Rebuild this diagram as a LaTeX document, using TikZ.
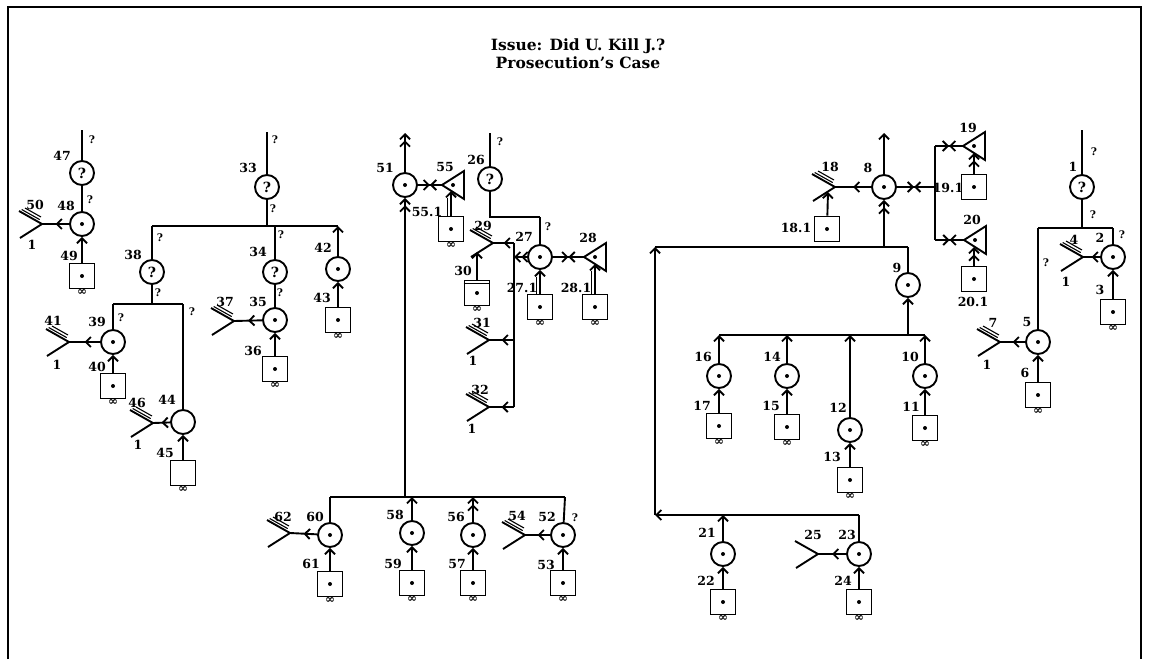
\documentclass[tikz,border=0pt]{standalone}
\usepackage{fontspec}
\setmainfont{DejaVu Serif}
\usetikzlibrary{arrows.meta,decorations.markings,calc}
\newcommand\numf{\fontsize{12.5}{13}\selectfont\bfseries}
\newcommand\qmf{\fontsize{10.5}{11}\selectfont\bfseries}
\newcommand\cqf{\fontsize{14}{14}\selectfont\bfseries}
\newcommand\inff{\fontsize{12}{10}\selectfont\bfseries}
\tikzset{
  dc/.style={circle, draw, minimum size=24pt, inner sep=0pt,
    path picture={\fill (path picture bounding box.center) circle (2pt);}},
  qc/.style={circle, draw, minimum size=24pt, inner sep=0pt, font=\cqf},
  ec/.style={circle, draw, minimum size=24pt, inner sep=0pt},
  sq/.style={rectangle, draw, minimum size=25pt, inner sep=0pt,
    path picture={\fill (path picture bounding box.center) circle (2pt);}},
  sqe/.style={rectangle, draw, minimum size=25pt, inner sep=0pt},
  inf/.style={label={[font=\inff, inner sep=0pt, label distance=-1pt]below:∞}},
  num/.style={font=\numf, inner sep=0pt},
  qm/.style={font=\qmf, inner sep=0pt},
  dotnode/.style={circle, fill, minimum size=4pt, inner sep=0pt},
  arr/.style={-{Straight Barb[length=5pt,width=10pt]}},
  darr/.style={-{Straight Barb[length=5pt,width=10pt] Straight Barb[length=5pt,width=10pt]}},
  marr/.style={postaction={decorate,decoration={markings,mark=at position #1 with {\arrow{Straight Barb[length=5pt,width=10pt]}}}}},
  marr/.default=0.5,
  xarr/.style={postaction={decorate,decoration={markings,mark=at position #1 with {\arrow{Straight Barb[length=5pt,width=10pt]}\arrowreversed{Straight Barb[length=5pt,width=10pt]}}}}},
  xarr/.default=0.5,
}
% fork: name, position, hatched(1/0)
\newcommand\wfork[3]{%
  \coordinate (#1) at (#2);
  \draw (#1) -- ++(-23,-13) (#1) -- ++(-22,14);
  \ifnum#3=1
  \draw[line width=1.1pt] ($(#1)+(-2.3,-4.4)$) -- ++(-18,-10.1);
  \draw[line width=1.1pt] ($(#1)+(-1.0,-7.0)$) -- ++(-16,-9);
  \fi}
% triangle pointing left: name, centre
\newcommand\wtri[2]{%
  \node[dotnode] (#1) at (#2) {};
  \draw ($(#1)+(-11,0)$) coordinate (#1a) -- ++(22,-14) -- ++(0,28) -- cycle;}
% double-shaft arrow: from node, to coordinate
\newcommand\dblarr[2]{%
  \draw[arr] (#1.north) -- (#2);
  \draw ([xshift=-3.5pt]#1.north) -- ($(#2)+(-3.5,7)$);}
\begin{document}
\begin{tikzpicture}[x=1pt,y=-1pt,line width=1.9pt]
\useasboundingbox (0,0) rectangle (1153,659);
\draw[line width=1.4pt] (8,659) -- (8,7) -- (1141,7) -- (1141,659);
\node[font=\fontsize{15.5}{18}\selectfont\bfseries, align=center] (title) at (578,54)
  {Issue: Did U. Kill J.?\\Prosecution’s Case};

% ---------------- left cluster ----------------
\node[qc] (n47) at (82,173) {?};
\coordinate (c47) at (82,130);
\node[dc] (n48) at (82,224) {};
\wfork{f50}{42,224}{1}
\node[sq,inf] (s49) at (82,276) {};
\draw (c47) -- (n47) -- (n48);
\draw[marr] (n48) -- (f50);
\draw[arr] (s49) -- (n48);

\coordinate (b1l) at (152,226); \coordinate (b1a) at (267,226);
\coordinate (b1b) at (275,226); \coordinate (b1r) at (338,226);
\draw (b1l) -- (b1r);
\node[qc] (n33) at (267,187) {?};
\coordinate (c33) at (267,132);
\draw (c33) -- (n33) -- (b1a);

\coordinate (b2l) at (113,304); \coordinate (b2m) at (152,304); \coordinate (b2r) at (183,304);
\node[qc] (n38) at (152,272) {?};
\draw (b1l) -- (n38) -- (b2m);
\draw (b2l) -- (b2r);
\node[dc] (n39) at (113,342) {};
\draw (b2l) -- (n39);
\wfork{f41}{69,342}{1}
\draw[marr] (n39) -- (f41);
\node[sq,inf] (s40) at (113,386) {};
\draw[arr] (s40) -- (n39);
\node[ec] (n44) at (183,422) {};
\draw (b2r) -- (n44);
\wfork{f46}{153,423}{1}
\draw[marr] (n44) -- (f46);
\node[sqe,inf] (s45) at (183,473) {};
\draw[arr] (s45) -- (n44);

\node[qc] (n34) at (275,272) {?};
\node[dc] (n35) at (275,320) {};
\draw (b1b) -- (n34) -- (n35);
\wfork{f37}{234,321}{1}
\draw[marr] (n35) -- (f37);
\node[sq,inf] (s36) at (275,369) {};
\draw[arr] (s36) -- (n35);
\node[dc] (n42) at (338,269) {};
\draw[arr] (n42) -- (b1r);
\node[sq,inf] (s43) at (338,320) {};
\draw[arr] (s43) -- (n42);

% ---------------- middle cluster ----------------
\node[dc] (n51) at (405,185) {};
\coordinate (c51) at (405,133);
\draw[darr] (n51) -- (c51);
\coordinate (b5l) at (330,497); \coordinate (b5m) at (405,497); \coordinate (b5r) at (565,497);
\draw[darr] (b5m) -- (n51);
\wtri{t55}{453,185}
\draw[xarr] (t55a) -- (n51);
\node[sq,inf] (s551) at (451,229) {};
\coordinate (p55) at (451,191);
\dblarr{s551}{p55}

\node[qc] (n26) at (490,179) {?};
\coordinate (c26) at (490,133);
\coordinate (b4l) at (490,217); \coordinate (b4r) at (540,217);
\draw (c26) -- (n26) -- (b4l) -- (b4r);
\node[dc] (n27) at (540,257) {};
\draw (b4r) -- (n27);
\coordinate (v27) at (514,257); \coordinate (vt) at (514,243);
\coordinate (v31) at (514,340); \coordinate (v32) at (514,407);
\draw (vt) -- (v32);
\draw[darr] (n27) -- (v27);
\wfork{f29}{493,243}{1}
\draw[marr] (vt) -- (f29);
\wfork{f31}{489,340}{1}
\draw[marr] (v31) -- (f31);
\wfork{f32}{489,407}{1}
\draw[marr] (v32) -- (f32);
\node[sq,inf] (s30) at (477,293) {};
\draw[line width=1.2pt] ($(s30.north west)+(0,4)$) -- ($(s30.north east)+(0,4)$);
\coordinate (p29) at (477,252);
\draw[arr] (s30) -- (p29);
\wtri{t28}{595,257}
\draw[xarr] (t28a) -- (n27);
\node[sq,inf] (s271) at (540,307) {};
\dblarr{s271}{n27.south}
\node[sq,inf] (s281) at (595,307) {};
\coordinate (p28) at (595,264);
\dblarr{s281}{p28}

% bottom middle
\draw (b5l) -- (b5r);
\node[dc] (n60) at (330,535) {};
\draw (b5l) -- (n60);
\wfork{f62}{290,533}{1}
\draw[marr] (n60) -- (f62);
\node[sq,inf] (s61) at (330,584) {};
\draw[arr] (s61) -- (n60);
\node[dc] (n58) at (412,533) {};
\coordinate (b58) at (412,497);
\draw[arr] (n58) -- (b58);
\node[sq,inf] (s59) at (412,583) {};
\draw[arr] (s59) -- (n58);
\node[dc] (n56) at (473,535) {};
\coordinate (b56) at (473,497);
\draw[darr] (n56) -- (b56);
\node[sq,inf] (s57) at (473,583) {};
\draw[arr] (s57) -- (n56);
\wfork{f54}{525,535}{1}
\node[dc] (n52) at (563,535) {};
\draw (b5r) -- (n52);
\draw[marr] (n52) -- (f54);
\node[sq,inf] (s53) at (563,583) {};
\draw[arr] (s53) -- (n52);

% ---------------- right-middle cluster ----------------
\node[dc] (n8) at (884,187) {};
\coordinate (c8) at (884,133);
\draw[arr] (n8) -- (c8);
\wfork{f18}{835,187}{1}
\draw[marr] (n8) -- (f18);
\node[sq] (s181) at (827,229) {};
\coordinate (p18) at (828,192);
\draw[arr] (s181) -- (p18);
\coordinate (b6l) at (655,247); \coordinate (b6m) at (884,247); \coordinate (b6r) at (908,247);
\draw (b6l) -- (b6r);
\draw[darr] (b6m) -- (n8);
\node[dc] (n9) at (908,285) {};
\draw (b6r) -- (n9);
\coordinate (b7l) at (719,335); \coordinate (b7m) at (908,335); \coordinate (b7r) at (925,335);
\coordinate (b14) at (787,335); \coordinate (b12) at (850,335);
\draw (b7l) -- (b7r);
\draw[arr] (b7m) -- (n9);
\node[dc] (n16) at (719,376) {};
\draw[arr] (n16) -- (b7l);
\node[sq,inf] (s17) at (719,426) {};
\draw[arr] (s17) -- (n16);
\node[dc] (n14) at (787,376) {};
\draw[arr] (n14) -- (b14);
\node[sq,inf] (s15) at (787,427) {};
\draw[arr] (s15) -- (n14);
\node[dc] (n12) at (850,430) {};
\draw[arr] (n12) -- (b12);
\node[sq,inf] (s13) at (850,480) {};
\draw[arr] (s13) -- (n12);
\node[dc] (n10) at (925,376) {};
\draw[arr] (n10) -- (b7r);
\node[sq,inf] (s11) at (925,428) {};
\draw[arr] (s11) -- (n10);

\coordinate (b8l) at (655,515); \coordinate (b8m) at (723,515); \coordinate (b8r) at (859,515);
\draw[arr] (b8r) -- (b8l);
\draw[arr] (b8l) -- (b6l);
\node[dc] (n21) at (723,554) {};
\draw[arr] (n21) -- (b8m);
\node[sq,inf] (s22) at (723,602) {};
\draw[arr] (s22) -- (n21);
\node[dc] (n23) at (859,554) {};
\draw (b8r) -- (n23);
\wfork{f25}{818,554}{0}
\draw[marr] (n23) -- (f25);
\node[sq,inf] (s24) at (859,602) {};
\draw[arr] (s24) -- (n23);

\coordinate (v19) at (935,146); \coordinate (v8) at (935,187); \coordinate (v20) at (935,240);
\draw (v19) -- (v20);
\draw[xarr=0.55] (v8) -- (n8);
\wtri{t19}{974,146}
\draw[xarr] (t19a) -- (v19);
\wtri{t20}{975,240}
\draw[xarr] (t20a) -- (v20);
\node[sq] (s191) at (974,187) {};
\coordinate (p19) at (974,153);
\draw[darr] (s191) -- (p19);
\node[sq] (s201) at (974,279) {};
\coordinate (p20) at (974,247);
\draw[darr] (s201) -- (p20);

% ---------------- far right cluster ----------------
\node[qc] (n1) at (1082,187) {?};
\coordinate (c1) at (1082,130);
\coordinate (b9l) at (1038,228); \coordinate (b9m) at (1082,228); \coordinate (b9r) at (1113,228);
\draw (c1) -- (n1) -- (b9m);
\draw (b9l) -- (b9r);
\node[dc] (n2) at (1113,257) {};
\draw (b9r) -- (n2);
\wfork{f4}{1083,257}{1}
\draw[marr] (n2) -- (f4);
\node[sq,inf] (s3) at (1113,312) {};
\draw[arr] (s3) -- (n2);
\node[dc] (n5) at (1038,342) {};
\draw (b9l) -- (n5);
\wfork{f7}{1000,342}{1}
\draw[marr] (n5) -- (f7);
\node[sq,inf] (s6) at (1038,395) {};
\draw[arr] (s6) -- (n5);

% ---------------- number labels ----------------
\node[num] (l47) at (62,156) {47};
\node[num] (l48) at (66,206) {48};
\node[num] (l50) at (35,205) {50};
\node[num] (l49) at (69,256) {49};
\node[num] (l38) at (133,255) {38};
\node[num] (l33) at (248,168) {33};
\node[num] (l34) at (258,252) {34};
\node[num] (l35) at (258,302) {35};
\node[num] (l37) at (225,302) {37};
\node[num] (l36) at (253,351) {36};
\node[num] (l42) at (323,248) {42};
\node[num] (l43) at (322,298) {43};
\node[num] (l39) at (97,322) {39};
\node[num] (l41) at (53,321) {41};
\node[num] (l40) at (97,367) {40};
\node[num] (l44) at (167,400) {44};
\node[num] (l46) at (137,403) {46};
\node[num] (l45) at (165,453) {45};
\node[num] (l51) at (385,168) {51};
\node[num] (l55) at (445,167) {55};
\node[num] (l551) at (427,212) {55.1};
\node[num] (l26) at (476,160) {26};
\node[num] (l29) at (483,226) {29};
\node[num] (l27) at (524,237) {27};
\node[num] (l28) at (588,238) {28};
\node[num] (l30) at (463,271) {30};
\node[num] (l271) at (522,288) {27.1};
\node[num] (l281) at (576,288) {28.1};
\node[num] (l31) at (482,323) {31};
\node[num] (l32) at (480,390) {32};
\node[num] (l62) at (283,517) {62};
\node[num] (l60) at (315,517) {60};
\node[num] (l61) at (311,564) {61};
\node[num] (l58) at (395,515) {58};
\node[num] (l59) at (393,564) {59};
\node[num] (l56) at (456,517) {56};
\node[num] (l57) at (457,564) {57};
\node[num] (l54) at (517,516) {54};
\node[num] (l52) at (547,517) {52};
\node[num] (l53) at (546,565) {53};
\node[num] (l18) at (830,167) {18};
\node[num] (l181) at (796,228) {18.1};
\node[num] (l8) at (868,168) {8};
\node[num] (l9) at (897,268) {9};
\node[num] (l19) at (968,128) {19};
\node[num] (l191) at (948,188) {19.1};
\node[num] (l20) at (972,220) {20};
\node[num] (l201) at (973,302) {20.1};
\node[num] (l16) at (703,357) {16};
\node[num] (l17) at (702,406) {17};
\node[num] (l14) at (772,357) {14};
\node[num] (l15) at (771,406) {15};
\node[num] (l12) at (838,408) {12};
\node[num] (l13) at (832,457) {13};
\node[num] (l10) at (910,357) {10};
\node[num] (l11) at (911,407) {11};
\node[num] (l21) at (707,533) {21};
\node[num] (l22) at (706,581) {22};
\node[num] (l23) at (847,535) {23};
\node[num] (l25) at (813,535) {25};
\node[num] (l24) at (843,581) {24};
\node[num] (l1) at (1073,167) {1};
\node[num] (l2) at (1100,238) {2};
\node[num] (l4) at (1074,240) {4};
\node[num] (l3) at (1100,290) {3};
\node[num] (l5) at (1027,322) {5};
\node[num] (l7) at (993,323) {7};
\node[num] (l6) at (1025,373) {6};

% the "1" marks under forks
\node[num] (o50) at (32,245) {1};
\node[num] (o41) at (57,365) {1};
\node[num] (o46) at (138,445) {1};
\node[num] (o31) at (473,361) {1};
\node[num] (o32) at (472,429) {1};
\node[num] (o4) at (1066,282) {1};
\node[num] (o7) at (987,365) {1};

% question marks
\node[qm] (q1) at (92,140) {?};
\node[qm] (q2) at (90,200) {?};
\node[qm] (q3) at (160,238) {?};
\node[qm] (q4) at (158,293) {?};
\node[qm] (q5) at (121,318) {?};
\node[qm] (q6) at (192,312) {?};
\node[qm] (q7) at (275,140) {?};
\node[qm] (q8) at (273,209) {?};
\node[qm] (q9) at (281,235) {?};
\node[qm] (q10) at (280,293) {?};
\node[qm] (q11) at (500,142) {?};
\node[qm] (q12) at (548,227) {?};
\node[qm] (q13) at (575,518) {?};
\node[qm] (q14) at (1094,152) {?};
\node[qm] (q15) at (1093,215) {?};
\node[qm] (q16) at (1122,235) {?};
\node[qm] (q17) at (1046,263) {?};
\end{tikzpicture}
\end{document}
